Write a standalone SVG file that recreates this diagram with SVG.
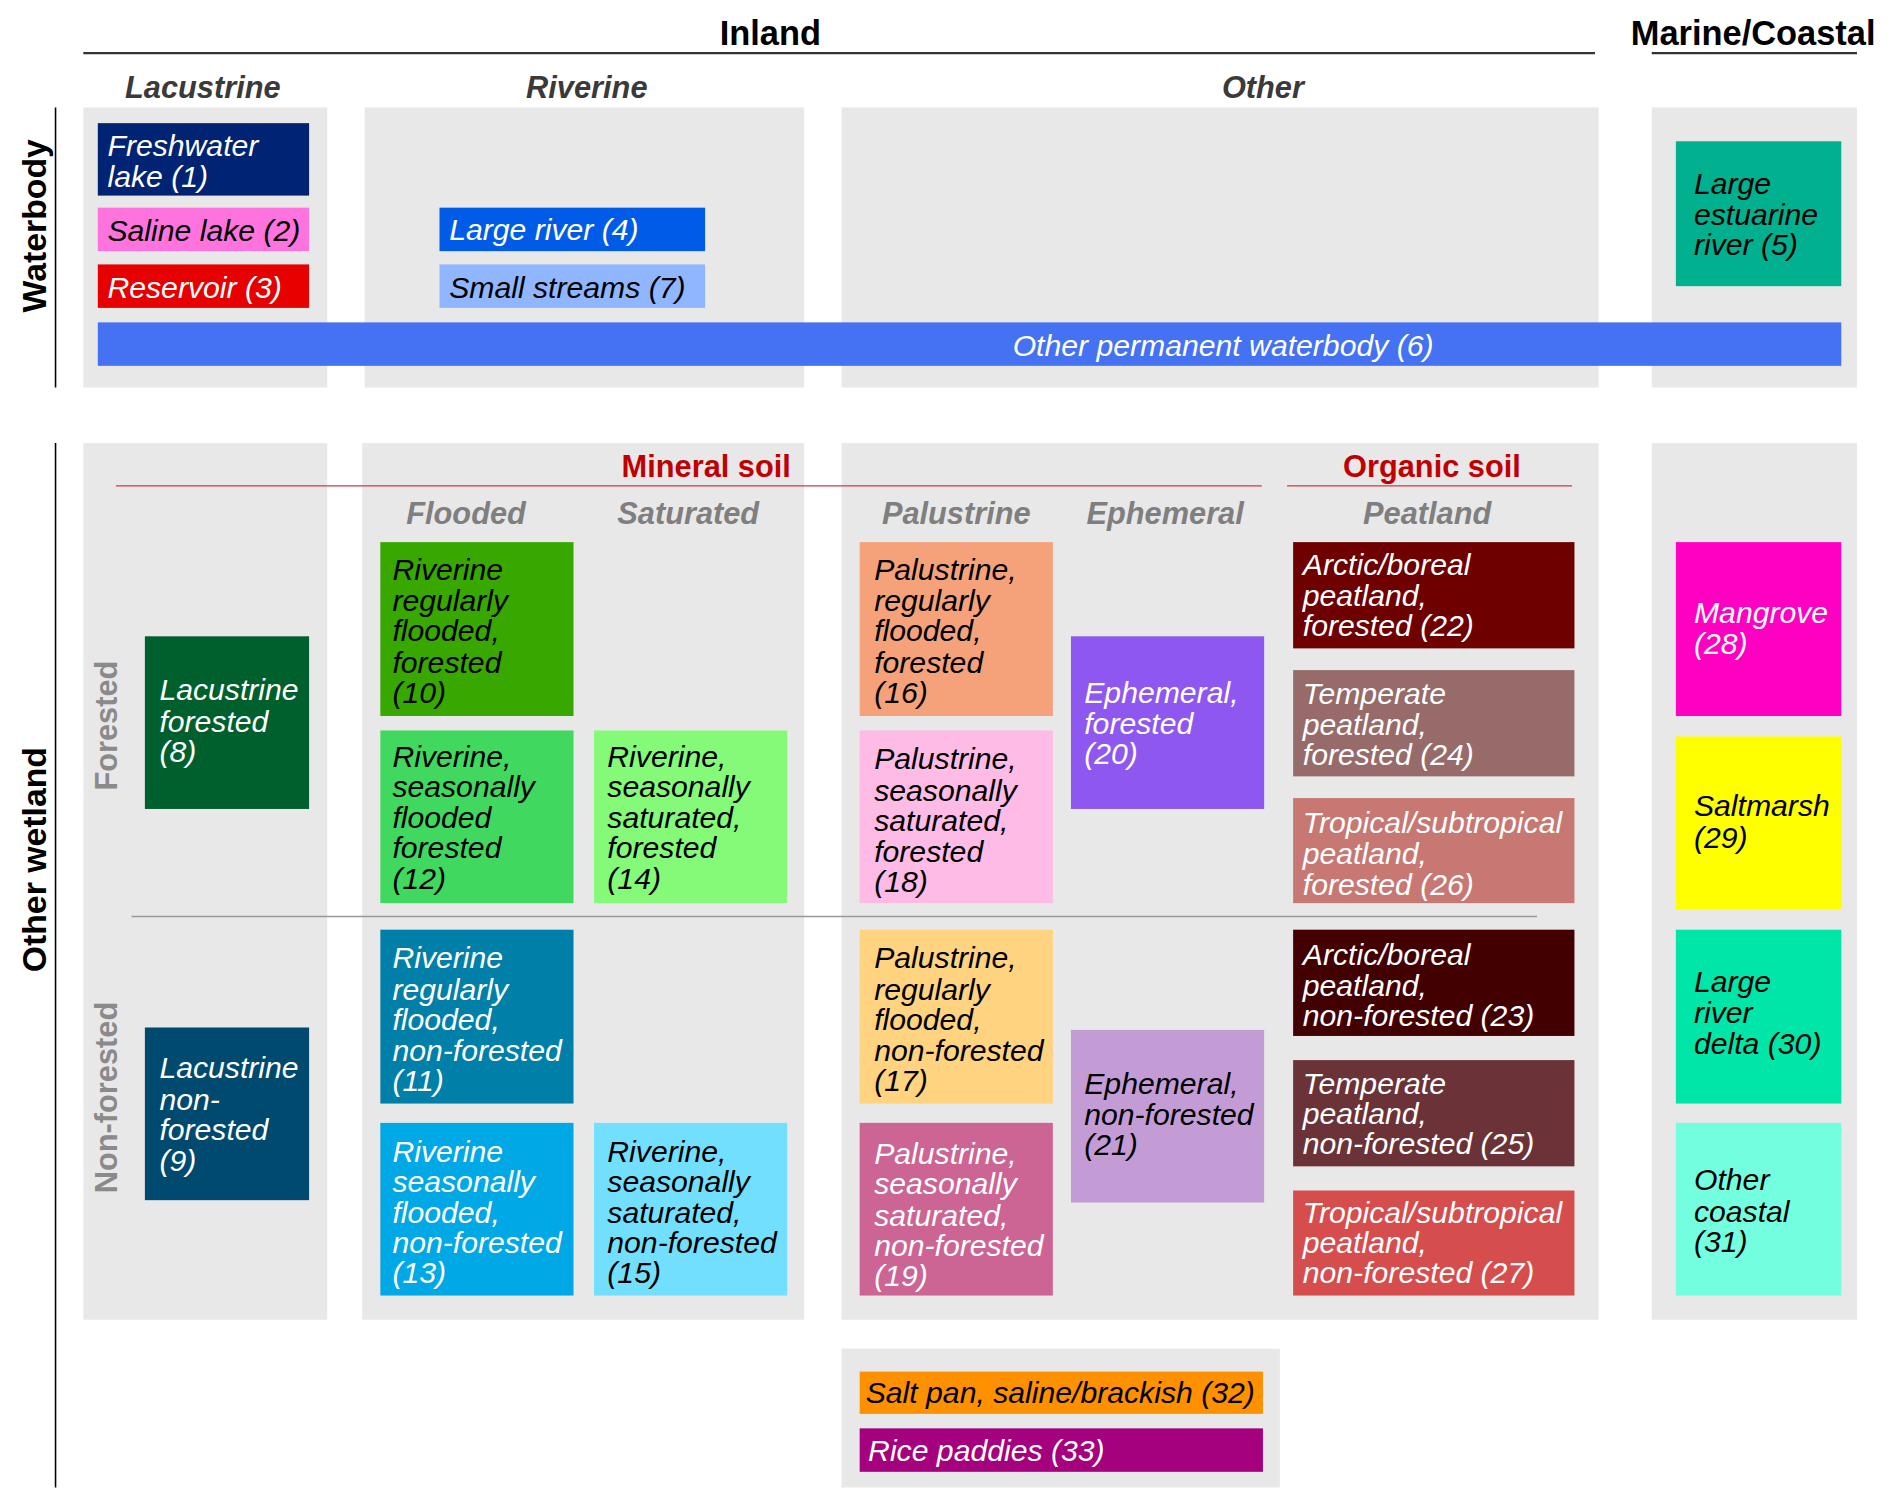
<svg xmlns="http://www.w3.org/2000/svg" width="1892" height="1508" viewBox="0 0 1892 1508">
<style>
text{font-family:"Liberation Sans",Arial,Helvetica,sans-serif}
.n{font-size:25px;font-style:italic}
.w{fill:#ffffff}
.k{fill:#000000}
.top{font-size:28.5px;font-weight:bold;fill:#000}
.col{font-size:25.5px;font-weight:bold;font-style:italic;fill:#3a3a3a}
.sub{font-size:25.5px;font-weight:bold;font-style:italic;fill:#7f7f7f}
.soil{font-size:25.5px;font-weight:bold;fill:#c00000}
.row{font-size:28px;font-weight:bold;fill:#000}
.fl{font-size:25.5px;font-weight:bold;fill:#8a8a8a}
.panel{fill:#e8e8e8}
</style>
<rect width="1892" height="1508" fill="#ffffff"/>
<g transform="scale(1.2074)">
<g id="panels">
<rect class="panel" x="69" y="89" width="202" height="232"/>
<rect class="panel" x="302" y="89" width="364" height="232"/>
<rect class="panel" x="697" y="89" width="627" height="232"/>
<rect class="panel" x="1368" y="89" width="170" height="232"/>
<rect class="panel" x="69" y="367" width="202" height="726"/>
<rect class="panel" x="300" y="367" width="366" height="726"/>
<rect class="panel" x="697" y="367" width="627" height="726"/>
<rect class="panel" x="1368" y="367" width="170" height="726"/>
<rect class="panel" x="697" y="1117" width="363" height="115"/>
</g>
<g id="connectors" fill="none">
<line x1="69" y1="44" x2="1321" y2="44" stroke="#333" stroke-width="1.8"/>
<line x1="1368" y1="44" x2="1538" y2="44" stroke="#333" stroke-width="1.8"/>
<line x1="46" y1="89" x2="46" y2="321" stroke="#000" stroke-width="1.3"/>
<line x1="46" y1="367" x2="46" y2="1232" stroke="#000" stroke-width="1.3"/>
<line x1="96" y1="402.5" x2="1045" y2="402.5" stroke="#d03c3c" stroke-width="1"/>
<line x1="1066" y1="402.5" x2="1302" y2="402.5" stroke="#d03c3c" stroke-width="1"/>
<line x1="109" y1="759" x2="1273" y2="759" stroke="#999" stroke-width="1.3"/>
</g>
<g id="labels">
<text class="top" x="638" y="37" text-anchor="middle">Inland</text>
<text class="top" x="1452" y="37" text-anchor="middle">Marine/Coastal</text>
<text class="col" x="168" y="81" text-anchor="middle">Lacustrine</text>
<text class="col" x="486" y="81" text-anchor="middle">Riverine</text>
<text class="col" x="1046" y="81" text-anchor="middle">Other</text>
<text class="row" transform="translate(38,187) rotate(-90)" text-anchor="middle">Waterbody</text>
<text class="row" transform="translate(38,712) rotate(-90)" text-anchor="middle">Other wetland</text>
<text class="fl" transform="translate(97,601) rotate(-90)" text-anchor="middle">Forested</text>
<text class="fl" transform="translate(97,909) rotate(-90)" text-anchor="middle">Non-forested</text>
<text class="soil" x="655" y="395" text-anchor="end">Mineral soil</text>
<text class="soil" x="1186" y="395" text-anchor="middle">Organic soil</text>
<text class="sub" x="386" y="434" text-anchor="middle">Flooded</text>
<text class="sub" x="570" y="434" text-anchor="middle">Saturated</text>
<text class="sub" x="792" y="434" text-anchor="middle">Palustrine</text>
<text class="sub" x="965" y="434" text-anchor="middle">Ephemeral</text>
<text class="sub" x="1182" y="434" text-anchor="middle">Peatland</text>
</g>
<g id="n1"><rect x="81" y="102" width="175" height="60" fill="#002373"/><text class="n w"><tspan x="89" y="129">Freshwater</tspan><tspan x="89" y="155">lake (1)</tspan></text></g>
<g id="n2"><rect x="81" y="172" width="175" height="36" fill="#ff73df"/><text class="n k" x="89" y="200">Saline lake (2)</text></g>
<g id="n3"><rect x="81" y="219" width="175" height="36" fill="#e60000"/><text class="n w" x="89" y="247">Reservoir (3)</text></g>
<g id="n4"><rect x="364" y="172" width="220" height="36" fill="#005ce6"/><text class="n w" x="372" y="199">Large river (4)</text></g>
<g id="n7"><rect x="364" y="219" width="220" height="36" fill="#8fb6ff"/><text class="n k" x="372" y="247">Small streams (7)</text></g>
<g id="n6"><rect x="81" y="267" width="1444" height="36" fill="#4472f2"/><text class="n w" x="1013" y="295" text-anchor="middle">Other permanent waterbody (6)</text></g>
<g id="n5"><rect x="1388" y="117" width="137" height="120" fill="#00b08f"/><text class="n k"><tspan x="1403" y="161">Large</tspan><tspan x="1403" y="186">estuarine</tspan><tspan x="1403" y="211">river (5)</tspan></text></g>
<g id="n8"><rect x="120" y="527" width="136" height="143" fill="#00602d"/><text class="n w"><tspan x="132" y="580">Lacustrine</tspan><tspan x="132" y="606">forested</tspan><tspan x="132" y="631">(8)</tspan></text></g>
<g id="n9"><rect x="120" y="851" width="136" height="143" fill="#004a70"/><text class="n w"><tspan x="132" y="893">Lacustrine</tspan><tspan x="132" y="919">non-</tspan><tspan x="132" y="944">forested</tspan><tspan x="132" y="970">(9)</tspan></text></g>
<g id="n10"><rect x="315" y="449" width="160" height="144" fill="#38a800"/><text class="n k"><tspan x="325" y="480">Riverine</tspan><tspan x="325" y="506">regularly</tspan><tspan x="325" y="531">flooded,</tspan><tspan x="325" y="557">forested</tspan><tspan x="325" y="582">(10)</tspan></text></g>
<g id="n12"><rect x="315" y="605" width="160" height="143" fill="#40d85f"/><text class="n k"><tspan x="325" y="635">Riverine,</tspan><tspan x="325" y="660">seasonally</tspan><tspan x="325" y="686">flooded</tspan><tspan x="325" y="711">forested</tspan><tspan x="325" y="736">(12)</tspan></text></g>
<g id="n14"><rect x="492" y="605" width="160" height="143" fill="#84fa78"/><text class="n k"><tspan x="503" y="635">Riverine,</tspan><tspan x="503" y="660">seasonally</tspan><tspan x="503" y="686">saturated,</tspan><tspan x="503" y="711">forested</tspan><tspan x="503" y="736">(14)</tspan></text></g>
<g id="n11"><rect x="315" y="770" width="160" height="144" fill="#0080a8"/><text class="n w"><tspan x="325" y="802">Riverine</tspan><tspan x="325" y="828">regularly</tspan><tspan x="325" y="853">flooded,</tspan><tspan x="325" y="879">non-forested</tspan><tspan x="325" y="904">(11)</tspan></text></g>
<g id="n13"><rect x="315" y="930" width="160" height="143" fill="#00a8e6"/><text class="n w"><tspan x="325" y="962">Riverine</tspan><tspan x="325" y="987">seasonally</tspan><tspan x="325" y="1013">flooded,</tspan><tspan x="325" y="1038">non-forested</tspan><tspan x="325" y="1063">(13)</tspan></text></g>
<g id="n15"><rect x="492" y="930" width="160" height="143" fill="#73dfff"/><text class="n k"><tspan x="503" y="962">Riverine,</tspan><tspan x="503" y="987">seasonally</tspan><tspan x="503" y="1013">saturated,</tspan><tspan x="503" y="1038">non-forested</tspan><tspan x="503" y="1063">(15)</tspan></text></g>
<g id="n16"><rect x="712" y="449" width="160" height="144" fill="#f5a27a"/><text class="n k"><tspan x="724" y="480">Palustrine,</tspan><tspan x="724" y="506">regularly</tspan><tspan x="724" y="531">flooded,</tspan><tspan x="724" y="557">forested</tspan><tspan x="724" y="582">(16)</tspan></text></g>
<g id="n18"><rect x="712" y="605" width="160" height="143" fill="#fdbbe5"/><text class="n k"><tspan x="724" y="637">Palustrine,</tspan><tspan x="724" y="663">seasonally</tspan><tspan x="724" y="688">saturated,</tspan><tspan x="724" y="714">forested</tspan><tspan x="724" y="739">(18)</tspan></text></g>
<g id="n17"><rect x="712" y="770" width="160" height="144" fill="#ffd37f"/><text class="n k"><tspan x="724" y="802">Palustrine,</tspan><tspan x="724" y="828">regularly</tspan><tspan x="724" y="853">flooded,</tspan><tspan x="724" y="879">non-forested</tspan><tspan x="724" y="904">(17)</tspan></text></g>
<g id="n19"><rect x="712" y="930" width="160" height="143" fill="#cc6494"/><text class="n w"><tspan x="724" y="964">Palustrine,</tspan><tspan x="724" y="989">seasonally</tspan><tspan x="724" y="1015">saturated,</tspan><tspan x="724" y="1040">non-forested</tspan><tspan x="724" y="1065">(19)</tspan></text></g>
<g id="n20"><rect x="887" y="527" width="160" height="143" fill="#8e57f0"/><text class="n w"><tspan x="898" y="582">Ephemeral,</tspan><tspan x="898" y="608">forested</tspan><tspan x="898" y="633">(20)</tspan></text></g>
<g id="n21"><rect x="887" y="853" width="160" height="143" fill="#c39cd6"/><text class="n k"><tspan x="898" y="906">Ephemeral,</tspan><tspan x="898" y="932">non-forested</tspan><tspan x="898" y="957">(21)</tspan></text></g>
<g id="n22"><rect x="1071" y="449" width="233" height="88" fill="#6e0000"/><text class="n w"><tspan x="1079" y="476">Arctic/boreal</tspan><tspan x="1079" y="502">peatland,</tspan><tspan x="1079" y="527">forested (22)</tspan></text></g>
<g id="n24"><rect x="1071" y="555" width="233" height="88" fill="#976b69"/><text class="n w"><tspan x="1079" y="583">Temperate</tspan><tspan x="1079" y="609">peatland,</tspan><tspan x="1079" y="634">forested (24)</tspan></text></g>
<g id="n26"><rect x="1071" y="661" width="233" height="87" fill="#c77873"/><text class="n w"><tspan x="1079" y="690">Tropical/subtropical</tspan><tspan x="1079" y="716">peatland,</tspan><tspan x="1079" y="741">forested (26)</tspan></text></g>
<g id="n23"><rect x="1071" y="770" width="233" height="88" fill="#420000"/><text class="n w"><tspan x="1079" y="799">Arctic/boreal</tspan><tspan x="1079" y="825">peatland,</tspan><tspan x="1079" y="850">non-forested (23)</tspan></text></g>
<g id="n25"><rect x="1071" y="878" width="233" height="88" fill="#6b3337"/><text class="n w"><tspan x="1079" y="906">Temperate</tspan><tspan x="1079" y="931">peatland,</tspan><tspan x="1079" y="956">non-forested (25)</tspan></text></g>
<g id="n27"><rect x="1071" y="986" width="233" height="87" fill="#d64d4d"/><text class="n w"><tspan x="1079" y="1013">Tropical/subtropical</tspan><tspan x="1079" y="1038">peatland,</tspan><tspan x="1079" y="1063">non-forested (27)</tspan></text></g>
<g id="n28"><rect x="1388" y="449" width="137" height="144" fill="#ff00c3"/><text class="n w"><tspan x="1403" y="516">Mangrove</tspan><tspan x="1403" y="542">(28)</tspan></text></g>
<g id="n29"><rect x="1388" y="610" width="137" height="143" fill="#ffff00"/><text class="n k"><tspan x="1403" y="676">Saltmarsh</tspan><tspan x="1403" y="702">(29)</tspan></text></g>
<g id="n30"><rect x="1388" y="770" width="137" height="144" fill="#00e6a8"/><text class="n k"><tspan x="1403" y="822">Large</tspan><tspan x="1403" y="847">river</tspan><tspan x="1403" y="873">delta (30)</tspan></text></g>
<g id="n31"><rect x="1388" y="930" width="137" height="143" fill="#73ffdf"/><text class="n k"><tspan x="1403" y="986">Other</tspan><tspan x="1403" y="1012">coastal</tspan><tspan x="1403" y="1037">(31)</tspan></text></g>
<g id="n32"><rect x="712" y="1136" width="334" height="35" fill="#ff9100"/><text class="n k" x="717" y="1162">Salt pan, saline/brackish (32)</text></g>
<g id="n33"><rect x="712" y="1183" width="334" height="36" fill="#a5007d"/><text class="n w" x="719" y="1210">Rice paddies (33)</text></g>
</g>
</svg>
